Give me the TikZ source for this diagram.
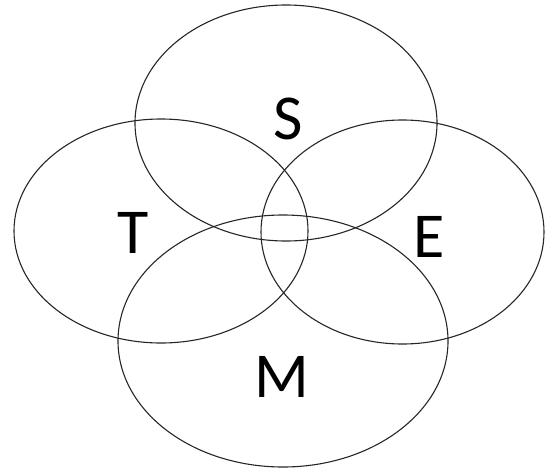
\documentclass[tikz,border=0pt]{standalone}
\usepackage{fontspec}
\setmainfont{Carlito}
\tikzset{
  setring/.style={draw=black!85, line width=1.1pt},
  setlabel/.style={font=\fontsize{64}{64}\selectfont, inner sep=0pt, anchor=base}
}
\begin{document}
\begin{tikzpicture}[x=1pt,y=-1pt]
\useasboundingbox (0,0) rectangle (545,471);
\draw[setring] (286,123) ellipse [x radius=151, y radius=118];
\draw[setring] (161,231) ellipse [x radius=147, y radius=112];
\draw[setring] (402.5,232) ellipse [x radius=141.5, y radius=112];
\draw[setring] (283,341) ellipse [x radius=165, y radius=126];
\node[setlabel] (s) at (288,139) {S};
\node[setlabel] (t) at (133.5,253) {T};
\node[setlabel] (e) at (429.5,257) {E};
\node[setlabel] (m) at (282,397) {M};
\end{tikzpicture}
\end{document}
